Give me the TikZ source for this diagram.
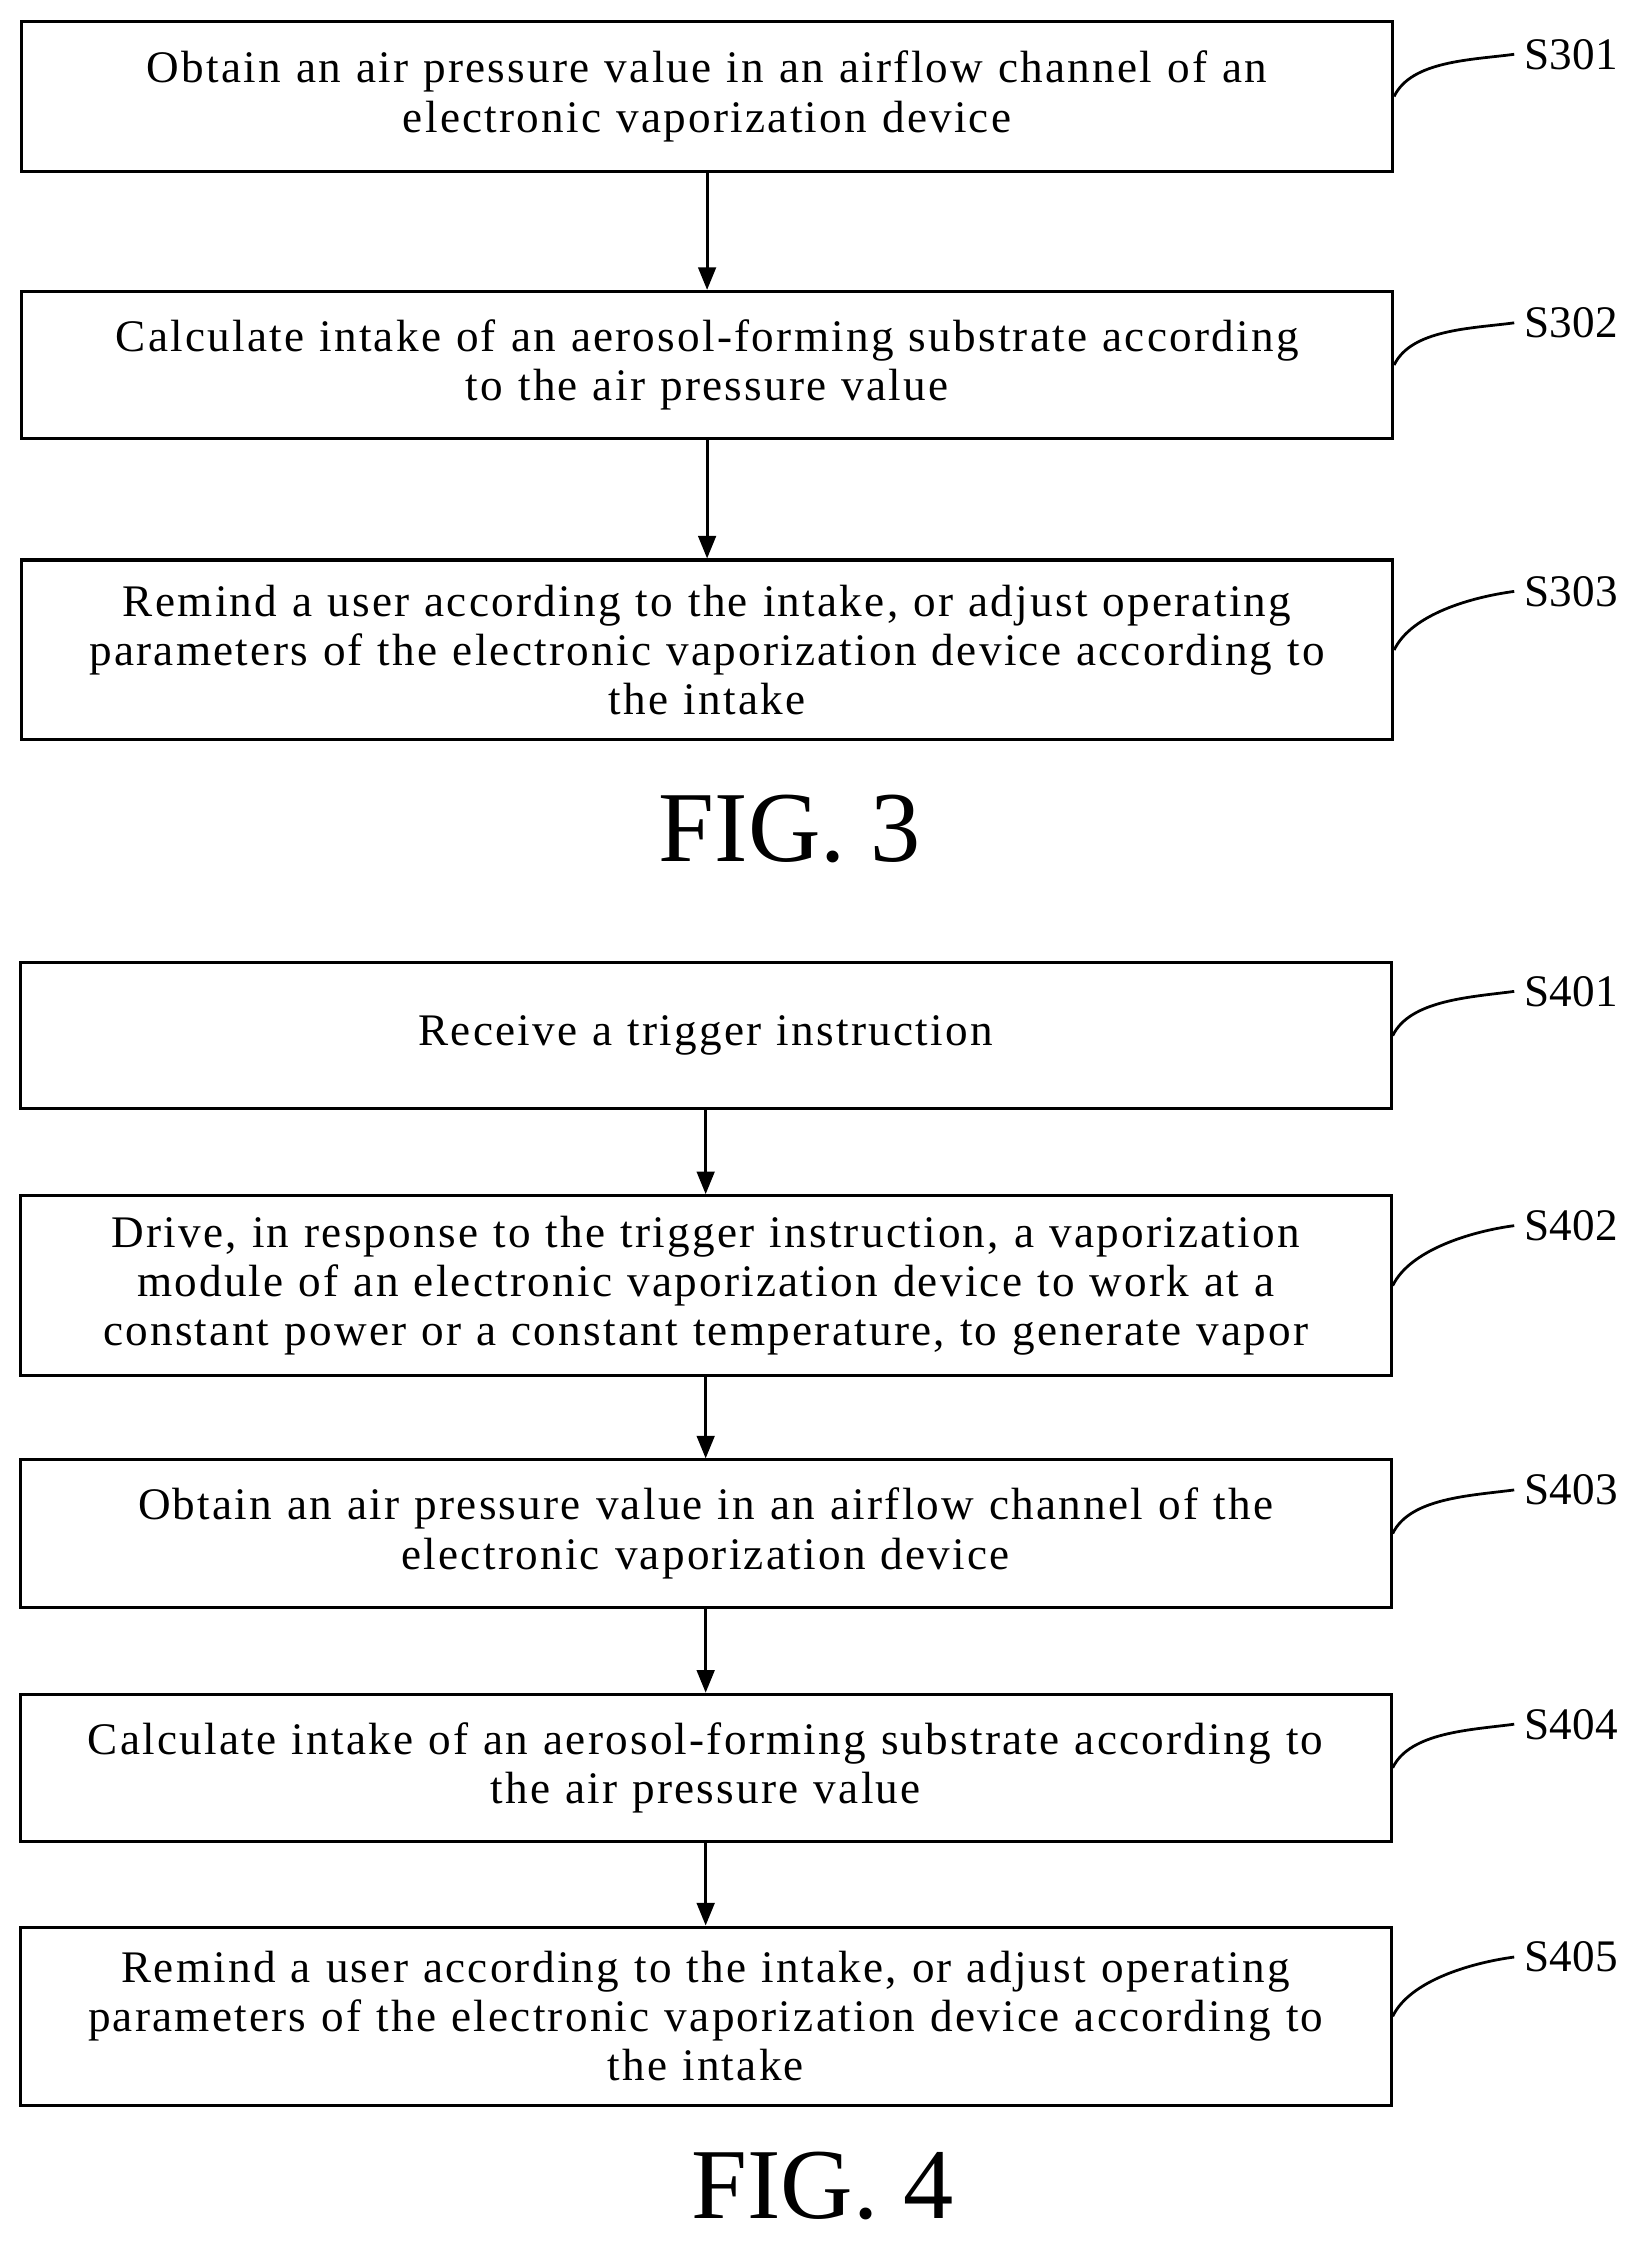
\documentclass[tikz,border=0pt]{standalone}
\usepackage{fontspec}
\setmainfont{Liberation Serif}
\usetikzlibrary{arrows.meta}
\begin{document}
\begin{tikzpicture}[x=0.02cm,y=-0.02cm,
  stepbox/.style={draw,line width=1.2pt,minimum width=19.2cm,text width=18.8cm,align=center,inner sep=0pt,font=\fontsize{18}{19.6}\selectfont\addfontfeatures{LetterSpace=5}},
  tag/.style={font=\fontsize{18}{20}\selectfont,inner sep=0pt},
  fig/.style={font=\fontsize{40}{44}\selectfont,inner sep=0pt},
  flow/.style={line width=1.2pt,-{Triangle[length=9pt,width=7pt]}},
  lead/.style={line width=1.1pt}]
\useasboundingbox (0,0) rectangle (1152,1573);
% FIG. 3
\node[stepbox,minimum height=2.1cm] (s301) at (495,67.5) {Obtain an air pressure value in an airflow channel of an\\electronic vaporization device};
\node[stepbox,minimum height=2.06cm] (s302) at (495,255.5) {Calculate intake of an aerosol-forming substrate according\\to the air pressure value};
\node[stepbox,minimum height=2.52cm] (s303) at (495,455) {Remind a user according to the intake, or adjust operating\\parameters of the electronic vaporization device according to\\the intake};
\node[fig] (f3) at (553,580) {FIG. 3};
% FIG. 4
\node[stepbox,minimum height=2.04cm] (s401) at (494,725) {Receive a trigger instruction};
\node[stepbox,minimum height=2.52cm] (s402) at (494,900) {Drive, in response to the trigger instruction, a vaporization\\module of an electronic vaporization device to work at a\\constant power or a constant temperature, to generate vapor};
\node[stepbox,minimum height=2.06cm] (s403) at (494,1073.5) {Obtain an air pressure value in an airflow channel of the\\electronic vaporization device};
\node[stepbox,minimum height=2.06cm] (s404) at (494,1237.5) {Calculate intake of an aerosol-forming substrate according to\\the air pressure value};
\node[stepbox,minimum height=2.5cm] (s405) at (494,1411.5) {Remind a user according to the intake, or adjust operating\\parameters of the electronic vaporization device according to\\the intake};
\node[fig] (f4) at (576,1530) {FIG. 4};
% step tags
\foreach \s/\y in {301/38,302/226,303/414,401/694,402/858,403/1043,404/1207,405/1370}
  \node[tag,anchor=west,inner xsep=4pt] (t\s) at (1060,\y) {S\s};
\foreach \s in {301,302,303,401,402,403,404,405}
  \draw[lead] (s\s.east) .. controls +(12,-25) and +(-30,4) .. (t\s.west);
% arrows
\draw[flow] (s301) -- (s302);
\draw[flow] (s302) -- (s303);
\draw[flow] (s401) -- (s402);
\draw[flow] (s402) -- (s403);
\draw[flow] (s403) -- (s404);
\draw[flow] (s404) -- (s405);
\end{tikzpicture}
\end{document}
